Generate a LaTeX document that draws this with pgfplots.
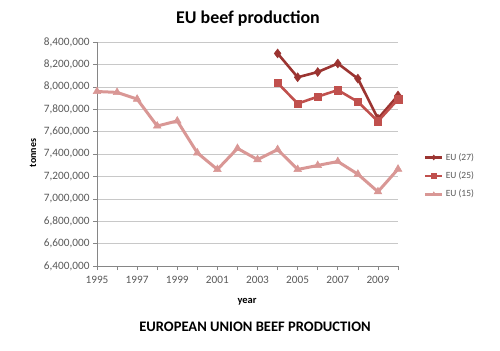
\documentclass[border=0pt]{standalone}
\usepackage{pgfplots}
\pgfplotsset{compat=1.18}
\usepackage{fontspec}
\setmainfont{Carlito}
\definecolor{ceu27}{HTML}{9B3431}
\definecolor{ceu25}{HTML}{C0504D}
\definecolor{ceu15}{HTML}{D99795}
\definecolor{tickgray}{HTML}{595959}
\definecolor{axgray}{HTML}{868686}
\definecolor{gridgray}{HTML}{C8C8C8}
\begin{document}
\begin{tikzpicture}[x=1bp,y=1bp]
\path[use as bounding box] (0,0) rectangle (500,350);
\node[font=\fontsize{18}{20}\selectfont\bfseries] at (248,331) {EU beef production};
\node[font=\fontsize{10}{11}\selectfont\bfseries,rotate=90] at (33,197) {tonnes};
\node[font=\fontsize{10.5}{12}\selectfont\bfseries] at (247,48) {year};
\node[font=\fontsize{14.6}{16}\selectfont\bfseries] at (255,23) {EUROPEAN UNION BEEF PRODUCTION};
\begin{axis}[
  at={(97bp,84bp)}, anchor=south west,
  width=301bp, height=224bp, scale only axis,
  xmin=1995, xmax=2010,
  ymin=6400000, ymax=8400000,
  xtick={1995,...,2010},
  xticklabels={1995,,1997,,1999,,2001,,2003,,2005,,2007,,2009,},
  ytick={6400000,6600000,...,8400000},
  scaled y ticks=false,
  /pgf/number format/assume math mode=true,
  yticklabel style={/pgf/number format/.cd,fixed,precision=0,1000 sep={,}},
  xticklabel style={/pgf/number format/1000 sep={}, yshift=-3bp},
  tick label style={font=\fontsize{11.3}{12}\selectfont, text=tickgray},
  axis x line*=bottom, axis y line*=left,
  axis line style={draw=axgray, line width=0.6pt, -},
  tick style={draw=axgray, line width=0.6pt},
  tick align=outside, major tick length=4bp,
  ymajorgrids, major grid style={draw=gridgray, line width=0.6pt},
  legend style={at={(1.075,0.522)}, anchor=north west, draw=none, fill=none,
    font=\fontsize{9.5}{10}\selectfont, text=tickgray, row sep=6bp},
  legend cell align=left,
  legend image post style={mark size=2.5pt},
]
\addplot[ceu27, line width=2.6pt, mark=diamond*, mark size=4.5pt, mark options={solid, line width=0.5pt}]
coordinates {(2004,8298000)(2005,8085000)(2006,8132000)(2007,8208000)(2008,8073000)(2009,7715000)(2010,7922000)};
\addlegendentry{EU (27)}
\addplot[ceu25, line width=2.6pt, mark=square*, mark size=3.8pt, mark options={solid, line width=0.5pt}]
coordinates {(2004,8035000)(2005,7850000)(2006,7912000)(2007,7971000)(2008,7866000)(2009,7692000)(2010,7888000)};
\addlegendentry{EU (25)}
\addplot[ceu15, line width=3pt, mark=triangle*, mark size=4.5pt, mark options={solid, line width=0.5pt}]
coordinates {(1995,7958000)(1996,7950000)(1997,7890000)(1998,7650000)(1999,7695000)(2000,7410000)(2001,7262000)(2002,7450000)(2003,7350000)(2004,7440000)(2005,7262000)(2006,7298000)(2007,7333000)(2008,7220000)(2009,7063000)(2010,7265000)};
\addlegendentry{EU (15)}
\end{axis}
\end{tikzpicture}
\end{document}
